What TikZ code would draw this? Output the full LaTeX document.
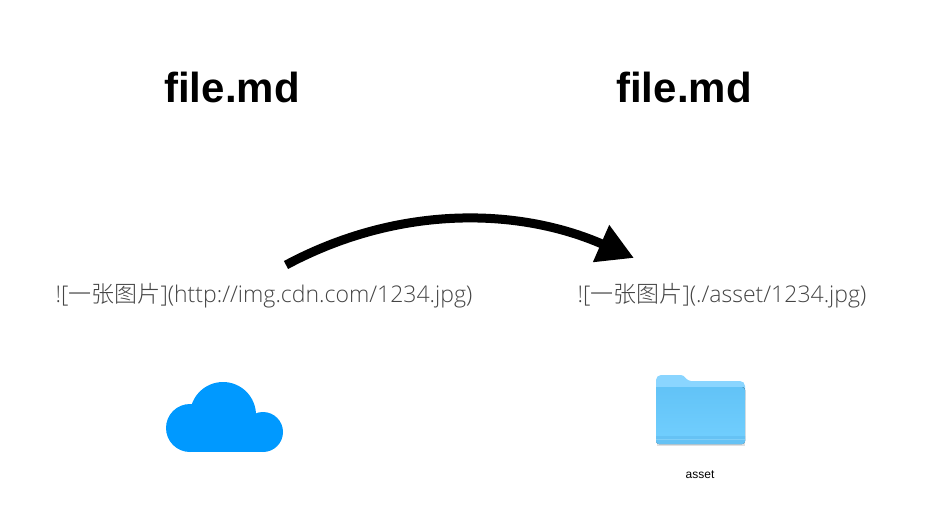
\documentclass[tikz,border=0pt]{standalone}
\usepackage{fontspec}
\setmainfont{Liberation Sans}
\newfontfamily\thin[UprightFont=* Light]{Open Sans}
\newfontfamily\cjk{Noto Sans CJK SC Light}
\usetikzlibrary{positioning}
\usetikzlibrary{arrows.meta}
\definecolor{cloudblue}{HTML}{0099FF}
\definecolor{folderback}{HTML}{8AD5FF}
\definecolor{foldertop}{HTML}{62C3F7}
\definecolor{folderlow}{HTML}{72CFFE}
\definecolor{folderfoot}{HTML}{66C2F4}
\definecolor{folderline}{HTML}{80CFF8}
\definecolor{linkgray}{HTML}{444444}
\begin{document}
\begin{tikzpicture}
[
x=1pt, y=-1pt,
title-a/.style={black,inner sep=0pt,font=\fontsize{42}{46}\selectfont\bfseries},
link-a/.style={linkgray,inner sep=0pt,font=\fontsize{23}{28}\selectfont\thin},
small-a/.style={black,inner sep=0pt,font=\fontsize{12}{14}\selectfont},
jump-a/.style={line width=9pt,-{Triangle[length=36pt,width=38pt]}},
]
\useasboundingbox (0,0) rectangle (933,516);
\node (t1) [title-a] at (232,87.5) {file.md};
\node (t2) [title-a] at (684,87.5) {file.md};
\node (l1) [link-a]  at (264,296)  {![{\cjk 一张图片}](http://img.cdn.com/1234.jpg)};
\node (l2) [link-a]  at (722,296)  {![{\cjk 一张图片}](./asset/1234.jpg)};
\node (l3) [small-a] at (700,475)  {asset};
\coordinate (a1) at (286,265);
\coordinate (a2) at (634,258);
\draw [jump-a] (a1) .. controls (400,204) and (520,208) .. (a2);
\fill [cloudblue] (190,428) circle (24);
\fill [cloudblue] (263,432) circle (20);
\fill [cloudblue] (223,415) circle (33);
\fill [cloudblue] (190,420) rectangle (263,452);
\fill [black!12] (657,440) rectangle (745,445.5);
\fill [folderback] (656,380) arc (180:270:5) -- (681,375) .. controls (685,375) and (686,381) .. (691,381)
  -- (740,381) arc (-90:0:5) -- (745,400) -- (656,400) -- cycle;
\fill [top color=foldertop, bottom color=folderlow] (656,387) -- (742,387) arc (-90:0:3) -- (745,441) arc (0:90:3)
  -- (659,444) arc (90:180:3) -- cycle;
\fill [folderfoot] (656,436) -- (745,436) -- (745,441) arc (0:90:3)
  -- (659,444) arc (90:180:3) -- cycle;
\draw [folderline, line width=0.7pt] (656,439.5) -- (745,439.5);
\end{tikzpicture}
\end{document}
